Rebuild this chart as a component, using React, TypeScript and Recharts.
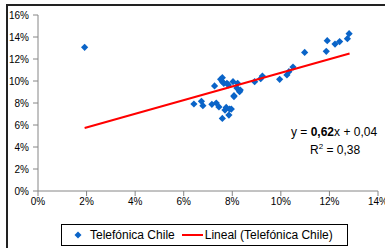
import { ScatterChart, Scatter, XAxis, YAxis } from 'recharts';

// telefónica chile: market return (x) vs stock return (y), in %
const MARKET = [
  1.92, 6.42, 6.73, 6.79, 7.16, 7.34, 7.27, 7.45, 7.52, 7.59, 7.59, 7.65, 7.59, 7.70,
  7.75, 7.78, 7.84, 7.86, 7.89, 7.96, 8.03, 8.07, 8.07, 8.22, 8.19, 8.30, 8.33, 8.92,
  9.17, 9.24, 9.95, 10.25, 10.33, 10.50, 10.98, 11.87, 11.91, 12.23, 12.42, 12.74, 12.81,
];
const STOCK = [
  13.06, 7.91, 8.15, 7.76, 7.88, 8.0, 9.55, 7.64, 10.15, 10.3, 9.94, 9.79, 6.6, 7.36,
  7.6, 9.79, 9.64, 6.9, 7.45, 7.45, 9.94, 8.67, 8.58, 9.79, 9.36, 9.03, 9.18, 9.94,
  10.21, 10.45, 10.15, 10.55, 10.85, 11.27, 12.6, 12.7, 13.67, 13.36, 13.58, 13.85, 14.3,
];
// linear trendline end points as drawn
const TREND_X = [1.92, 12.83];
const TREND_Y = [5.73, 12.5];

const X_TICKS = [0, 2, 4, 6, 8, 10, 12, 14];
const Y_TICKS = [0, 2, 4, 6, 8, 10, 12, 14, 16];

const BLUE = '#0A64C8';
const FONT = '"Liberation Sans", Arial, sans-serif';

const points = MARKET.map((x, i) => ({ x, y: STOCK[i] }));
const trend = TREND_X.map((x, i) => ({ x, y: TREND_Y[i] }));

// eslint-disable-next-line @typescript-eslint/no-explicit-any
function Diamond(props: any) {
  const { cx, cy } = props;
  const r = 3.6;
  return (
    <polygon
      points={`${cx},${cy - r} ${cx + r},${cy} ${cx},${cy + r} ${cx - r},${cy}`}
      fill={BLUE}
    />
  );
}

export default function App() {
  const tick = { fontSize: 10, fill: '#000', fontFamily: FONT };
  return (
    <div style={{ position: 'fixed', left: 0, top: 0, width: 385, height: 248, overflow: 'hidden', background: '#fff', fontFamily: FONT }}>
      <div style={{ position: 'absolute', left: 6, top: 4, width: 400, height: 260, borderLeft: '2px solid #222', borderTop: '2px solid #222' }} />
      <div style={{ position: 'absolute', left: 0, top: 0 }}>
        <ScatterChart width={385} height={248} margin={{ top: 15, right: 7, bottom: 27, left: 0 }}>
          <XAxis
            type="number"
            dataKey="x"
            domain={[0, 14]}
            ticks={X_TICKS}
            tickFormatter={(v: number) => `${v}%`}
            tick={tick}
            stroke="#868686"
            tickSize={5}
            height={30}
            interval={0}
            allowDataOverflow
          />
          <YAxis
            type="number"
            dataKey="y"
            domain={[0, 16]}
            ticks={Y_TICKS}
            tickFormatter={(v: number) => `${v}%`}
            tick={tick}
            stroke="#868686"
            tickSize={5}
            tickMargin={4}
            width={38}
            interval={0}
          />
          <Scatter data={points} shape={<Diamond />} isAnimationActive={false} />
          <Scatter
            data={trend}
            line={{ stroke: '#FF0000', strokeWidth: 2 }}
            shape={() => <g />}
            isAnimationActive={false}
          />
        </ScatterChart>
      </div>
      <div style={{ position: 'absolute', left: 291, top: 125, fontSize: 12, whiteSpace: 'nowrap', lineHeight: '14px' }}>
        y = <b>0,62</b>x + 0,04
      </div>
      <div style={{ position: 'absolute', left: 310, top: 143, fontSize: 12, whiteSpace: 'nowrap', lineHeight: '14px' }}>
        R<sup style={{ fontSize: 8, verticalAlign: 'top', lineHeight: '8px' }}>2</sup> = 0,38
      </div>
      <div style={{ position: 'absolute', left: 61, top: 224, width: 285, height: 20, border: '1px solid #000', display: 'flex', alignItems: 'center', fontSize: 12, whiteSpace: 'nowrap' }}>
        <svg width={10} height={10} style={{ marginLeft: 11, marginRight: 7 }}>
          <polygon points="5,1.5 8.5,5 5,8.5 1.5,5" fill={BLUE} />
        </svg>
        <span>Telefónica Chile</span>
        <svg width={22} height={10} style={{ marginLeft: 7, marginRight: 1 }}>
          <line x1={0} y1={5} x2={21} y2={5} stroke="#FF0000" strokeWidth={2} />
        </svg>
        <span>Lineal (Telefónica Chile)</span>
      </div>
    </div>
  );
}
